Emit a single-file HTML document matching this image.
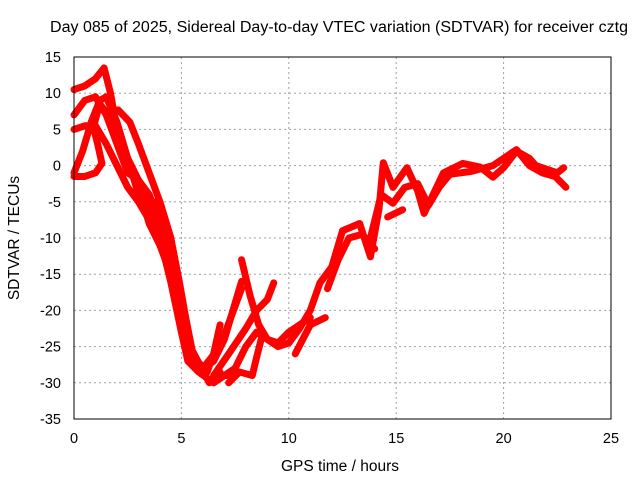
<!DOCTYPE html>
<html><head><meta charset="utf-8"><style>
body{margin:0;background:#fff;}
svg{display:block;font-family:"Liberation Sans",sans-serif;}
</style></head><body>
<svg id="chart" width="640" height="480" viewBox="0 0 640 480">
<text x="339" y="32" font-size="15.5" text-anchor="middle" textLength="578" lengthAdjust="spacingAndGlyphs">Day 085 of 2025, Sidereal Day-to-day VTEC variation (SDTVAR) for receiver cztg</text>
<g id="grid"></g>
<g id="series"></g>
<rect x="74" y="57" width="537" height="362" fill="none" stroke="#000" stroke-width="1"/>
<g id="ticks"></g>
<text x="340" y="471" font-size="15.5" text-anchor="middle">GPS time / hours</text>
<text x="0" y="0" font-size="15.5" text-anchor="middle" transform="translate(19,238) rotate(-90)">SDTVAR / TECUs</text>
</svg>
<script>
const xTicks=[0,5,10,15,20,25];
const yTicks=[15,10,5,0,-5,-10,-15,-20,-25,-30,-35];
const s1=[[0,10.5],[0.5,11],[1,12],[1.4,13.5],[1.7,10],[2,5],[2.5,1],[3,-2],[3.5,-5],[4,-9],[4.5,-14],[4.8,-19],[5,-23],[5.3,-27],[5.8,-28.5],[6.5,-30],[7,-29],[7.5,-29]];
const s2=[[0,7],[0.5,9],[1,9.5],[1.5,7],[2,3],[2.5,-1],[3,-2],[3.5,-4],[4,-8],[4.5,-13],[5,-20],[5.3,-25],[5.7,-28],[6.2,-28.5],[6.5,-26],[6.8,-22]];
const s3=[[0,5],[0.5,5.5],[1,5.5],[1.5,3],[2,0],[2.5,-3],[3,-5],[3.5,-7.5],[4,-10],[4.5,-16],[5,-23],[5.5,-27],[6,-28],[6.5,-27],[7,-24],[7.5,-19],[7.8,-16]];
const s4=[[0,-1.5],[0.5,-1.5],[1,-1],[1.3,0.3],[1.1,3],[0.9,5.3],[1.2,8.5],[1.6,7],[2,4],[2.5,0],[3,-3],[3.5,-8],[4,-11],[4.5,-15],[5,-21],[5.5,-26],[6,-28.5]];
const s5=[[2.05,7.7],[2.6,6],[3,3],[3.4,-0.2],[4,-5],[4.5,-9.9],[4.9,-16],[5.2,-21],[5.5,-25.5],[6.3,-30],[6.8,-28.5]];
const s6=[[0,-1],[0.4,2],[0.8,6],[1.2,9],[1.5,9.5],[2,6],[2.5,1],[3,-4],[3.5,-6],[4,-8],[4.5,-12]];
const s7=[[3.8,-5],[4.2,-8],[4.6,-13],[4.9,-18],[5.1,-22],[5.4,-26],[5.9,-27.5]];
const r1=[[6,-28],[6.8,-25],[7.3,-21],[7.8,-17]];
const r2=[[6.5,-29],[7.2,-26],[8,-22.5],[8.5,-20],[9,-18.5],[9.3,-16.2]];
const r3=[[7,-29],[7.5,-28],[8,-25],[8.5,-23],[9,-24],[9.5,-24.5],[10,-23],[10.5,-22],[11,-21]];
const r4=[[7.8,-13],[8.2,-18],[8.6,-22],[9,-24],[9.5,-25],[10,-24.5],[10.5,-22.5],[11,-20],[11.45,-16.2],[12,-14],[12.5,-9],[13.3,-8],[13.8,-12.6],[14.2,-6],[14.4,0.4],[14.85,-3],[15.5,-0.3],[16,-3.5],[16.3,-6.6],[17.2,-1],[18.1,0.3],[18.9,-0.2],[19.5,-1.6],[20,-0.3],[20.6,2],[21.2,1],[21.5,0],[22,-0.5],[22.5,-1],[22.8,-0.3]];
const r5=[[7.2,-30],[7.7,-28.5],[8.3,-29],[8.5,-26.5],[8.8,-23]];
const r6=[[10.3,-26],[11,-22],[11.7,-21]];
const r7=[[13.8,-10],[14.3,-4],[14.85,-5.2],[15.4,-3],[16,-2.5],[16.5,-5.5],[17,-3],[17.5,-1.2],[18.5,-0.8],[19.5,0],[20,1],[20.6,2.2],[21.2,0],[21.8,-1],[22.4,-1.5],[22.9,-3]];
const r8=[[14.6,-7.1],[15.3,-6.1]];
const r9=[[11.8,-17],[12.3,-13],[12.8,-10],[13.4,-9.5],[14,-11.5]];
const allSeries=[s1,s2,s3,s4,s5,s6,s7,r1,r2,r3,r4,r5,r6,r7,r8,r9];
const NS="http://www.w3.org/2000/svg";
function px(x){return 74+x*537/25;}
function py(y){return 57+(15-y)*362/50;}
const grid=document.getElementById('grid'),ticks=document.getElementById('ticks'),ser=document.getElementById('series');
xTicks.forEach(t=>{
 if(t>0&&t<25){const l=document.createElementNS(NS,'line');
 
 
 l.setAttribute('x1',px(t));l.setAttribute('x2',px(t));l.setAttribute('y1',57);l.setAttribute('y2',419);
 l.setAttribute('stroke','#a0a0a0');l.setAttribute('stroke-dasharray','2,3');grid.appendChild(l);}
 const tk=document.createElementNS(NS,'text');
 
 
 tk.setAttribute('x',px(t));tk.setAttribute('y',443);tk.setAttribute('font-size','14.5');tk.setAttribute('text-anchor','middle');
 tk.textContent=t;ticks.appendChild(tk);
});
yTicks.forEach(t=>{
 if(t<15&&t>-35){const l=document.createElementNS(NS,'line');
 
 
 l.setAttribute('x1',74);l.setAttribute('x2',611);l.setAttribute('y1',py(t));l.setAttribute('y2',py(t));
 l.setAttribute('stroke','#a0a0a0');l.setAttribute('stroke-dasharray','2,3');grid.appendChild(l);}
 const tk=document.createElementNS(NS,'text');
 
 
 tk.setAttribute('x',61);tk.setAttribute('y',py(t)+5);tk.setAttribute('font-size','14.5');tk.setAttribute('text-anchor','end');
 tk.textContent=t;ticks.appendChild(tk);
});
allSeries.forEach(s=>{
 const p=document.createElementNS(NS,'polyline');
 
 
 p.setAttribute('points',s.map(d=>px(d[0])+','+py(d[1])).join(' '));
 p.setAttribute('fill','none');p.setAttribute('stroke','#ff0000');p.setAttribute('stroke-width','7');
 p.setAttribute('stroke-linejoin','round');p.setAttribute('stroke-linecap','round');
 ser.appendChild(p);
});
</script>
</body></html>
